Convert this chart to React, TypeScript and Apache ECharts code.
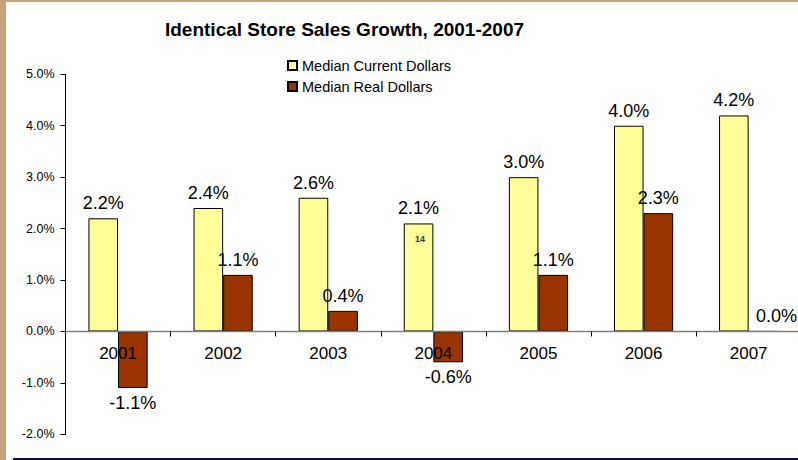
import React, { useEffect, useRef } from "react";
import * as echarts from "echarts";

const categories = ["2001", "2002", "2003", "2004", "2005", "2006", "2007"];
const currentDollars = [2.2, 2.4, 2.6, 2.1, 3.0, 4.0, 4.2];
const realDollars = [-1.1, 1.1, 0.4, -0.6, 1.1, 2.3, 0.0];
const seriesNames = ["Median Current Dollars", "Median Real Dollars"];
const titleText = "Identical Store Sales Growth, 2001-2007";

const FONT = "'Liberation Sans', Arial, sans-serif";

export default function App() {
  const ref = useRef<HTMLDivElement>(null);

  useEffect(() => {
    document.body.style.margin = "0";
    const chart = echarts.init(ref.current!, null, { renderer: "svg" });
    const pct = (v: number) => v.toFixed(1) + "%";
    const gridTop = 74.3;
    const gridBottom = 25.7;
    const plotH = 460 - gridTop - gridBottom;
    const zeroShift = (plotH * 2) / 7; // distance from -2% (grid bottom) up to 0%
    chart.setOption({
      animation: false,
      backgroundColor: "#ffffff",
      textStyle: { fontFamily: FONT },
      graphic: [
        { type: "rect", left: 0, top: 0, shape: { width: 6, height: 460 }, style: { fill: "#c4a47a" }, z: 10 },
        { type: "rect", left: 0, top: 0, shape: { width: 798, height: 2 }, style: { fill: "#c4a47a" }, z: 10 },
        { type: "rect", left: 13, top: 458, shape: { width: 785, height: 2 }, style: { fill: "#0b0b45" }, z: 10 },
        {
          type: "text",
          left: 415,
          top: 234,
          style: { text: "14", fontSize: 9, fontFamily: FONT, fill: "#333", fontWeight: "bold" },
          z: 10,
        },
      ],
      title: {
        text: titleText,
        left: 344.5,
        top: 20,
        padding: 0,
        textAlign: "center",
        textStyle: { fontSize: 19, fontWeight: "bold", color: "#000", fontFamily: FONT },
      },
      legend: {
        orient: "vertical",
        left: 287,
        top: 58,
        padding: 0,
        itemWidth: 9,
        itemHeight: 9,
        itemGap: 6,
        icon: "rect",
        textStyle: { fontSize: 14.5, color: "#000", fontFamily: FONT, lineHeight: 14 },
        data: seriesNames,
      },
      grid: {
        left: 65.5,
        top: gridTop,
        width: 735.7,
        bottom: gridBottom,
        containLabel: false,
        outerBoundsMode: "none",
      },
      xAxis: {
        type: "category",
        data: categories,
        z: 5,
        offset: -zeroShift,
        axisLine: { onZero: false, lineStyle: { color: "#808080", width: 1.3 } },
        axisTick: { show: true, interval: 0, length: 5, lineStyle: { color: "#000" } },
        axisLabel: { fontSize: 17, color: "#000", margin: 14, fontFamily: FONT },
      },
      yAxis: {
        type: "value",
        min: -2,
        max: 5,
        interval: 1,
        splitLine: { show: false },
        axisLine: { show: true, lineStyle: { color: "#000" } },
        axisTick: { show: true, length: 5, lineStyle: { color: "#000" } },
        axisLabel: { fontSize: 12.5, color: "#000", margin: 11, formatter: (v: number) => pct(v), fontFamily: FONT },
      },
      series: [
        {
          name: seriesNames[0],
          type: "bar",
          data: currentDollars,
          barWidth: 29.6,
          barGap: "0%",
          itemStyle: { color: "#ffff99", borderColor: "#000", borderWidth: 1 },
          label: {
            show: true,
            position: "top",
            distance: 6,
            fontSize: 18,
            color: "#000",
            fontFamily: FONT,
            formatter: (p: any) => pct(p.value),
          },
        },
        {
          name: seriesNames[1],
          type: "bar",
          data: realDollars.map((v) => ({
            value: v,
            label: {
              position: v < 0 ? "bottom" : "top",
              offset: v === 0 ? [13, 0] : [0, 0],
            },
          })),
          barWidth: 29.6,
          itemStyle: { color: "#993300", borderColor: "#000", borderWidth: 1 },
          label: {
            show: true,
            position: "top",
            distance: 6,
            fontSize: 18,
            color: "#000",
            fontFamily: FONT,
            formatter: (p: any) => pct(p.value),
          },
        },
      ],
    });
    return () => chart.dispose();
  }, []);

  return <div ref={ref} style={{ width: 798, height: 460, position: "absolute", left: 0, top: 0 }} />;
}
